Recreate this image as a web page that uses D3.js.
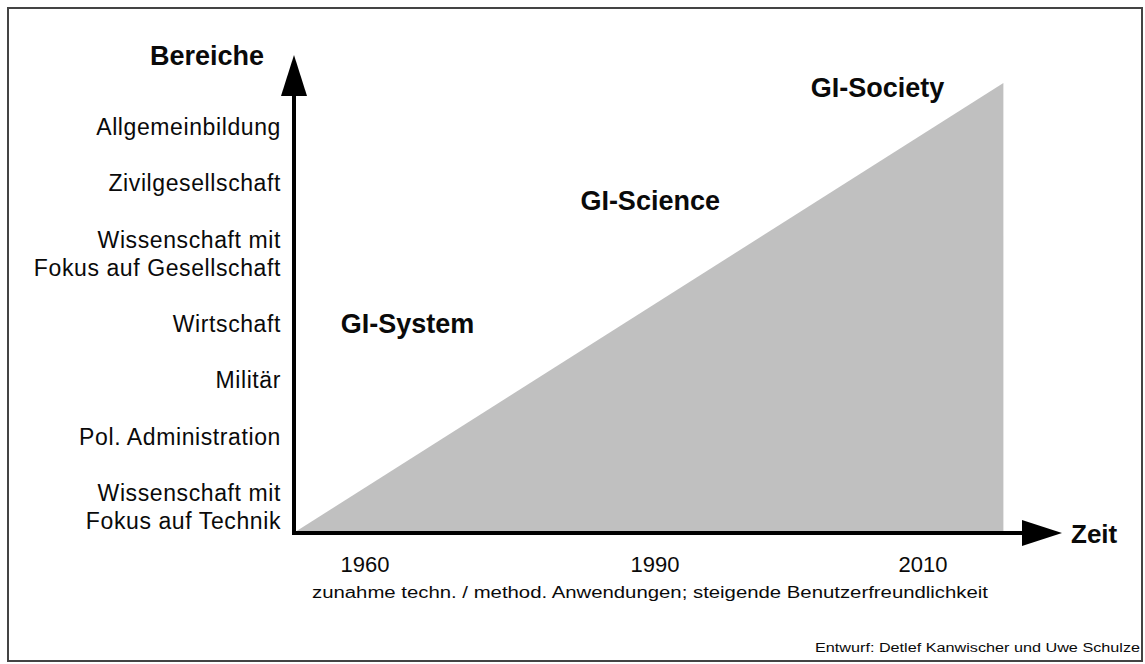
<!DOCTYPE html>
<html>
<head>
<meta charset="utf-8">
<script src="https://cdn.jsdelivr.net/npm/d3@7"></script>
<style>
  body { margin: 0; background: #fff; }
  text { font-family: "Liberation Sans", Arial, sans-serif; fill: #0a0a0a; }
</style>
</head>
<body>
<svg id="canvas"></svg>
<script>
// Bereiche (bottom to top), each entry is one label, possibly two lines
let bereiche = [
  ["Wissenschaft mit", "Fokus auf Technik"],
  ["Pol. Administration"],
  ["Militär"],
  ["Wirtschaft"],
  ["Wissenschaft mit ", "Fokus auf Gesellschaft"],
  ["Zivilgesellschaft"],
  ["Allgemeinbildung"]
];

let yearTicks = [1960, 1990, 2010];

// growth of the grey area over time (level 0..100)
let growthYears = [1952.6, 2016];
let growthLevels = [0, 100];

let phases = ["GI-System", "GI-Science", "GI-Society"];
let phaseYears = [1957.5, 1989.5, 2006.6];
let phaseLevels = [44.4, 71.8, 96.9];

let yTitle = "Bereiche";
let xTitle = "Zeit";
let subtitle = "zunahme techn. / method. Anwendungen; steigende Benutzerfreundlichkeit";
let credit = "Entwurf: Detlef Kanwischer und Uwe Schulze";

let width = 1145;
let height = 664;
let originX = 294;
let originY = 533;

let canvas = d3.select("#canvas")
canvas.attr("width", width)
canvas.attr("height", height)

// frame
canvas.append("rect")
      .attr("x", 8).attr("y", 8)
      .attr("width", 1134).attr("height", 653)
      .attr("fill", "none")
      .attr("stroke", "#444")
      .attr("stroke-width", 2)

// time scale is not even in the source, so a piecewise linear scale
let xScale = d3.scaleLinear()
               .domain(yearTicks)
               .range([365, 655, 923])

let levelScale = d3.scaleLinear()
                   .domain([0, 100])
                   .range([originY, 83])

// label lines: one unit per line, two units between labels
let lineScale = d3.scaleLinear()
                  .domain([0, 14])
                  .range([529, 135])

let drawArea = () => {
    let pts = growthYears.map((y, i) => ({year: y, level: growthLevels[i]}))
    let area = d3.area()
                 .x(d => xScale(d.year))
                 .y0(levelScale(0))
                 .y1(d => levelScale(d.level))
    canvas.append("path")
          .datum(pts)
          .attr("d", area)
          .attr("fill", "#c0c0c0")
}

let drawAxes = () => {
    let g = canvas.append("g")
    // y axis line + arrow
    g.append("line")
     .attr("x1", originX).attr("x2", originX)
     .attr("y1", originY + 2).attr("y2", 90)
     .attr("stroke", "#000").attr("stroke-width", 4)
    g.append("path")
     .attr("d", d3.line()([[originX, 55], [originX - 13, 96], [originX + 13, 96]]) + "Z")
     .attr("fill", "#000")
    // x axis line + arrow
    g.append("line")
     .attr("x1", originX - 2).attr("x2", 1030)
     .attr("y1", originY).attr("y2", originY)
     .attr("stroke", "#000").attr("stroke-width", 4)
    g.append("path")
     .attr("d", d3.line()([[1062, originY], [1022, originY - 13], [1022, originY + 13]]) + "Z")
     .attr("fill", "#000")

    canvas.append("text")
          .attr("x", 207).attr("y", 65)
          .attr("text-anchor", "middle")
          .attr("font-size", 27).attr("font-weight", "bold")
          .text(yTitle)

    canvas.append("text")
          .attr("x", 1071).attr("y", 543)
          .attr("font-size", 26).attr("font-weight", "bold")
          .text(xTitle)

    canvas.selectAll(".year")
          .data(yearTicks)
          .enter()
          .append("text")
          .attr("class", "year")
          .attr("x", d => xScale(d))
          .attr("y", 572)
          .attr("text-anchor", "middle")
          .attr("font-size", 22)
          .text(d => d)

    canvas.append("text")
          .attr("x", 650).attr("y", 598)
          .attr("text-anchor", "middle")
          .attr("font-size", 16)
          .attr("textLength", 676)
          .attr("lengthAdjust", "spacingAndGlyphs")
          .text(subtitle)

    canvas.append("text")
          .attr("x", 1140).attr("y", 652)
          .attr("text-anchor", "end")
          .attr("font-size", 12.5)
          .attr("textLength", 325)
          .attr("lengthAdjust", "spacingAndGlyphs")
          .text(credit)
}

let drawCategories = () => {
    let unit = 0
    bereiche.forEach((lines) => {
        let top = unit + lines.length - 1
        lines.forEach((line, i) => {
            canvas.append("text")
                  .attr("class", "bereich")
                  .attr("x", 281)
                  .attr("y", lineScale(top - i))
                  .attr("text-anchor", "end")
                  .attr("font-size", 23)
                  .attr("letter-spacing", 0.6)
                  .text(line.trim())
        })
        unit = top + 2
    })
}

let drawPhases = () => {
    canvas.selectAll(".phase")
          .data(phases)
          .enter()
          .append("text")
          .attr("class", "phase")
          .attr("x", (d, i) => xScale(phaseYears[i]))
          .attr("y", (d, i) => levelScale(phaseLevels[i]))
          .attr("text-anchor", (d, i) => i == 0 ? "start" : "middle")
          .attr("font-size", 27)
          .attr("font-weight", "bold")
          .text(d => d)
}

drawArea();
drawAxes();
drawCategories();
drawPhases();
</script>
</body>
</html>
